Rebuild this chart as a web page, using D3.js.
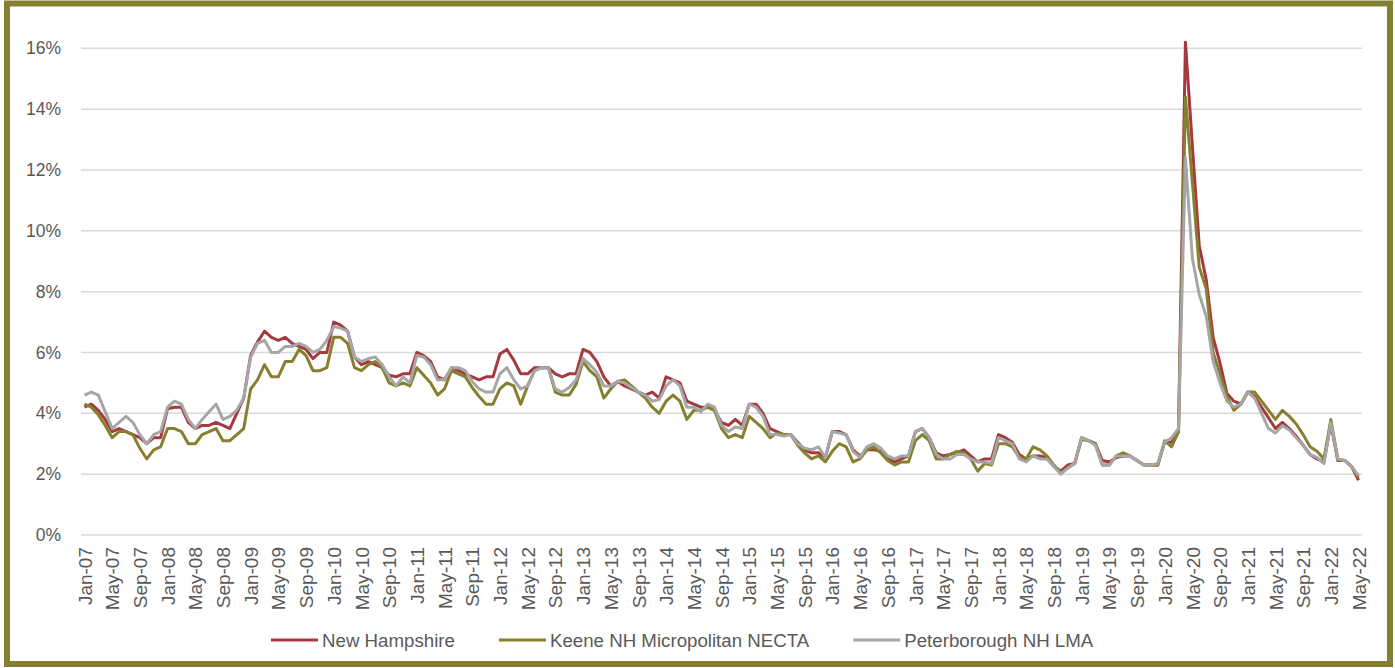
<!DOCTYPE html>
<html>
<head>
<meta charset="utf-8">
<script src="https://cdn.jsdelivr.net/npm/d3@7"></script>
<style>
  body { margin: 0; background: #fff; }
  svg text { font-family: "Liberation Sans", Arial, sans-serif; fill: #595959; }
</style>
</head>
<body>
<div id="chart"></div>
<script>
// monthly unemployment rate (%), Jan-07 .. May-22
var years = d3.range(2007, 2023);
var monthNames = ["Jan","Feb","Mar","Apr","May","Jun","Jul","Aug","Sep","Oct","Nov","Dec"];

var newHampshire = [
  4.2, 4.3, 4.1, 3.8, 3.4, 3.5, 3.4, 3.3, 3.2, 3.0, 3.2, 3.2,
  4.15, 4.2, 4.2, 3.7, 3.5, 3.6, 3.6, 3.7, 3.6, 3.5, 4.0, 4.5,
  5.9, 6.35, 6.7, 6.5, 6.4, 6.5, 6.3, 6.2, 6.1, 5.8, 6.0, 6.0,
  7.0, 6.9, 6.7, 5.85, 5.6, 5.7, 5.6, 5.5, 5.25, 5.2, 5.3, 5.3,
  6.0, 5.9, 5.7, 5.2, 5.1, 5.5, 5.4, 5.3, 5.2, 5.1, 5.2, 5.2,
  5.95, 6.1, 5.75, 5.3, 5.3, 5.5, 5.5, 5.5, 5.3, 5.2, 5.3, 5.3,
  6.1, 6.0, 5.7, 5.2, 4.9, 5.05, 4.9, 4.8, 4.7, 4.6, 4.7, 4.5,
  5.2, 5.1, 5.0, 4.4, 4.3, 4.2, 4.2, 4.1, 3.7, 3.6, 3.8, 3.6,
  4.3, 4.3, 4.0, 3.5, 3.4, 3.3, 3.3, 3.05, 2.8, 2.7, 2.7, 2.55,
  3.4, 3.4, 3.3, 2.8, 2.6, 2.8, 2.8, 2.75, 2.5, 2.4, 2.5, 2.6,
  3.4, 3.5, 3.2, 2.7, 2.6, 2.65, 2.7, 2.8, 2.6, 2.4, 2.5, 2.5,
  3.3, 3.2, 3.05, 2.65, 2.5, 2.6, 2.6, 2.55, 2.25, 2.1, 2.3, 2.35,
  3.2, 3.1, 3.0, 2.45, 2.4, 2.55, 2.6, 2.6, 2.45, 2.3, 2.3, 2.3,
  3.05, 3.05, 3.4, 16.2, 12.8, 9.5, 8.4, 6.5, 5.65, 4.65, 4.4, 4.3,
  4.7, 4.55, 4.2, 3.85, 3.5, 3.7, 3.5, 3.25, 2.95, 2.65, 2.5, 2.4,
  3.65, 2.45, 2.45, 2.25, 1.8
];

var keene = [
  4.3, 4.2, 3.95, 3.6, 3.2, 3.4, 3.4, 3.3, 2.85, 2.5, 2.8, 2.9,
  3.5, 3.5, 3.4, 3.0, 3.0, 3.3, 3.4, 3.5, 3.1, 3.1, 3.3, 3.5,
  4.8, 5.1, 5.6, 5.2, 5.2, 5.7, 5.7, 6.1, 5.9, 5.4, 5.4, 5.5,
  6.5, 6.5, 6.3, 5.5, 5.4, 5.6, 5.7, 5.5, 5.0, 4.9, 5.0, 4.9,
  5.5, 5.25, 5.0, 4.6, 4.8, 5.4, 5.3, 5.2, 4.85, 4.55, 4.3, 4.3,
  4.8, 5.0, 4.9, 4.3, 4.9, 5.4, 5.5, 5.5, 4.7, 4.6, 4.6, 4.95,
  5.7, 5.4, 5.2, 4.5, 4.8, 5.05, 5.1, 4.9, 4.7, 4.5, 4.2, 4.0,
  4.4, 4.6, 4.4, 3.8, 4.1, 4.1, 4.2, 4.1, 3.5, 3.2, 3.3, 3.2,
  3.9, 3.7, 3.5, 3.2, 3.35, 3.3, 3.3, 2.95, 2.7, 2.5, 2.6, 2.4,
  2.75, 3.0, 2.9, 2.4, 2.5, 2.8, 2.9, 2.7, 2.45, 2.3, 2.4, 2.4,
  3.1, 3.3, 3.1, 2.5, 2.5, 2.65, 2.75, 2.7, 2.5, 2.1, 2.35, 2.3,
  3.0, 3.0, 2.9, 2.55, 2.5, 2.9, 2.8, 2.6, 2.3, 2.05, 2.2, 2.35,
  3.15, 3.1, 3.0, 2.3, 2.3, 2.6, 2.7, 2.6, 2.45, 2.3, 2.3, 2.3,
  3.1, 2.9, 3.4, 14.4, 11.6, 8.8, 8.1, 6.0, 5.3, 4.55, 4.1, 4.3,
  4.7, 4.7, 4.4, 4.1, 3.8, 4.1, 3.9, 3.65, 3.3, 2.9, 2.75, 2.5,
  3.8, 2.5, 2.45, 2.25, 1.9
];

var peterborough = [
  4.6, 4.7, 4.6, 4.05, 3.5, 3.7, 3.9, 3.7, 3.3, 3.0, 3.3, 3.4,
  4.2, 4.4, 4.3, 3.8, 3.5, 3.8, 4.05, 4.3, 3.8, 3.9, 4.1, 4.5,
  5.85, 6.3, 6.4, 6.0, 6.0, 6.2, 6.2, 6.3, 6.2, 6.0, 6.1, 6.4,
  6.85, 6.8, 6.7, 5.85, 5.7, 5.8, 5.85, 5.6, 5.2, 4.9, 5.2, 5.0,
  5.9, 5.85, 5.6, 5.1, 5.1, 5.5, 5.5, 5.4, 5.05, 4.8, 4.7, 4.7,
  5.3, 5.5, 5.1, 4.8, 4.9, 5.4, 5.5, 5.5, 4.8, 4.7, 4.85, 5.1,
  5.8, 5.6, 5.35, 4.9, 4.9, 5.05, 5.0, 4.85, 4.7, 4.6, 4.4, 4.45,
  4.9, 5.1, 4.9, 4.2, 4.2, 4.05, 4.3, 4.2, 3.6, 3.4, 3.55, 3.5,
  4.3, 4.2, 3.9, 3.3, 3.3, 3.25, 3.3, 3.0, 2.85, 2.8, 2.9, 2.55,
  3.4, 3.35, 3.3, 2.75, 2.55, 2.9, 3.0, 2.85, 2.6, 2.5, 2.6, 2.6,
  3.4, 3.5, 3.2, 2.65, 2.5, 2.5, 2.65, 2.65, 2.5, 2.4, 2.4, 2.35,
  3.2, 3.1, 3.0, 2.5, 2.4, 2.6, 2.5, 2.5, 2.25, 2.0, 2.2, 2.35,
  3.2, 3.1, 2.95, 2.3, 2.3, 2.6, 2.6, 2.6, 2.45, 2.3, 2.3, 2.35,
  3.05, 3.2, 3.5, 12.4, 9.1, 7.9, 7.2, 5.7, 5.0, 4.4, 4.2, 4.3,
  4.7, 4.5, 4.0, 3.5, 3.35, 3.6, 3.45, 3.2, 2.95, 2.65, 2.55, 2.35,
  3.7, 2.5, 2.45, 2.25, 1.95
];

var yTicks = [0, 2, 4, 6, 8, 10, 12, 14, 16];

// month labels like "Jan-07"
var months = [];
years.forEach(function(y) {
  monthNames.forEach(function(m) {
    months.push(m + "-" + String(y % 100).padStart(2, "0"));
  });
});
months = months.slice(0, newHampshire.length);

var series = [
  { name: "New Hampshire", values: newHampshire, color: "#A5393D" },
  { name: "Keene NH Micropolitan NECTA", values: keene, color: "#857F2E" },
  { name: "Peterborough NH LMA", values: peterborough, color: "#A6A6A6" }
];

var svgWidth = 1395;
var svgHeight = 668;

var svg = d3.select("#chart")
  .append("svg")
  .attr("width", svgWidth)
  .attr("height", svgHeight);

// outer frame
svg.append("rect")
  .attr("x", 7)
  .attr("y", 3.5)
  .attr("width", 1383)
  .attr("height", 660.5)
  .attr("fill", "#fff")
  .attr("stroke", "#857F30")
  .attr("stroke-width", 6);

var xScale = d3.scalePoint()
  .domain(months)
  .range([81, 1362])
  .padding(0.5);

var yScale = d3.scaleLinear()
  .domain([0, 16])
  .range([535, 48.3]);

// gridlines
svg.append("g")
  .selectAll("line")
  .data(yTicks)
  .enter()
  .append("line")
  .attr("x1", 81)
  .attr("x2", 1362)
  .attr("y1", d => yScale(d))
  .attr("y2", d => yScale(d))
  .attr("stroke", "#D9D9D9")
  .attr("stroke-width", 1.5);

// y axis labels
var leftAxis = d3.axisLeft(yScale)
  .tickValues(yTicks)
  .tickSize(0)
  .tickPadding(0)
  .tickFormat(d => d + "%");

svg.append("g")
  .attr("transform", "translate(61, 0)")
  .call(leftAxis)
  .call(g => g.select(".domain").remove())
  .selectAll("text")
  .attr("font-size", "17.5px")
  .attr("font-family", null)
  .attr("fill", "#595959");

// x axis labels, every 4th month, rotated
var bottomAxis = d3.axisBottom(xScale)
  .tickValues(months.filter((d, i) => i % 4 === 0))
  .tickSize(0)
  .tickPadding(0);

svg.append("g")
  .attr("transform", "translate(0, 547)")
  .call(bottomAxis)
  .call(g => g.select(".domain").remove())
  .selectAll("text")
  .attr("font-size", "19px")
  .attr("font-family", null)
  .attr("fill", "#595959")
  .attr("text-anchor", "end")
  .attr("transform", "rotate(-90)")
  .attr("x", 0)
  .attr("y", 0)
  .attr("dy", "0.35em");

// lines
var line = d3.line()
  .x((d, i) => xScale(months[i]))
  .y(d => yScale(d));

svg.append("g")
  .selectAll("path")
  .data(series)
  .enter()
  .append("path")
  .attr("d", d => line(d.values))
  .attr("fill", "none")
  .attr("stroke", d => d.color)
  .attr("stroke-width", 3)
  .attr("stroke-linejoin", "round");

// legend
var legend = svg.append("g").attr("transform", "translate(0, 640)");
var lx = 271;
series.forEach(function(s) {
  legend.append("line")
    .attr("x1", lx)
    .attr("x2", lx + 47)
    .attr("y1", 0)
    .attr("y2", 0)
    .attr("stroke", s.color)
    .attr("stroke-width", 3);
  var t = legend.append("text")
    .attr("x", lx + 51)
    .attr("y", 0)
    .attr("dy", "0.35em")
    .attr("font-size", "18.7px")
    .text(s.name);
  lx = lx + 51 + t.node().getComputedTextLength() + 44;
});
</script>
</body>
</html>
